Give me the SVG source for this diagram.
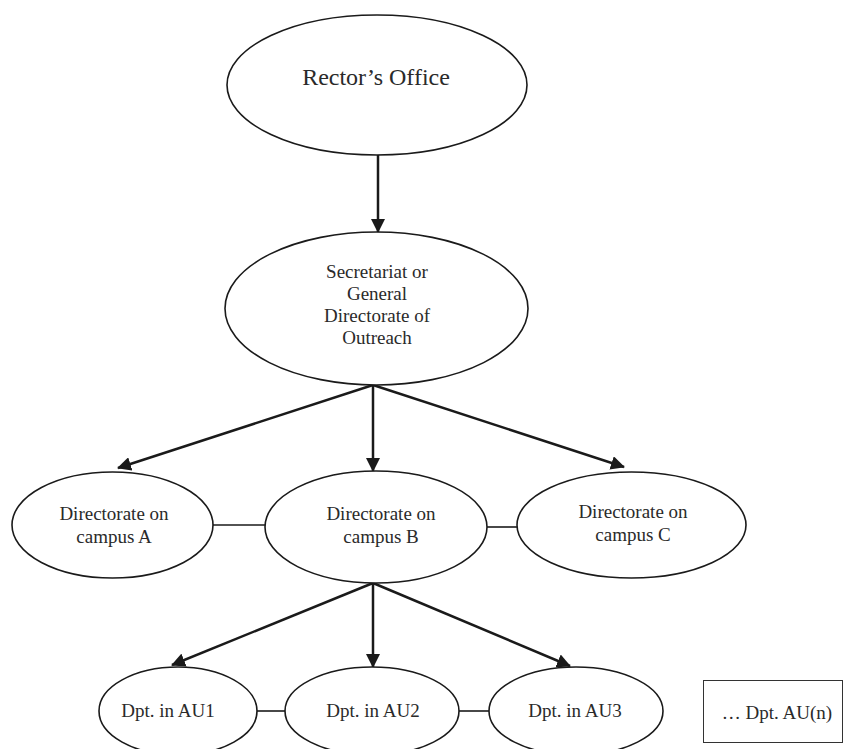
<svg xmlns="http://www.w3.org/2000/svg" width="843" height="749" viewBox="0 0 843 749">
<style>
.n{fill:#fff;stroke:#1a1a1a;stroke-width:1.6}
.t{font-family:"Liberation Serif","Times New Roman",serif;font-size:19px;fill:#2a2a2a;text-anchor:middle}
.a{stroke:#1a1a1a;stroke-width:2.5;fill:none;marker-end:url(#ah)}
.l{stroke:#1a1a1a;stroke-width:1.6;fill:none}
</style>
<defs>
<marker id="ah" markerUnits="userSpaceOnUse" viewBox="0 0 14 14" markerWidth="14" markerHeight="14" refX="13" refY="7" orient="auto">
<path d="M0,0 L14,7 L0,14 z" fill="#1a1a1a"/>
</marker>
</defs>
<rect width="843" height="749" fill="#fff"/>
<g id="connectors">
<line class="a" x1="378" y1="155" x2="378" y2="232"/>
<line class="a" x1="373" y1="385" x2="118" y2="468"/>
<line class="a" x1="373" y1="385" x2="373" y2="471"/>
<line class="a" x1="373" y1="385" x2="624" y2="467"/>
<line class="a" x1="373" y1="583" x2="172" y2="665"/>
<line class="a" x1="373" y1="583" x2="373" y2="667"/>
<line class="a" x1="373" y1="583" x2="570" y2="666"/>
<line class="l" x1="213" y1="525" x2="265" y2="525"/>
<line class="l" x1="487" y1="527" x2="517" y2="527"/>
<line class="l" x1="257" y1="711" x2="285" y2="711"/>
<line class="l" x1="459" y1="711" x2="489" y2="711"/>
</g>
<g id="rector">
<ellipse class="n" cx="377" cy="85" rx="150" ry="70"/>
<text class="t" x="376" y="85" style="font-size:24px">Rector’s Office</text>
</g>
<g id="secretariat">
<ellipse class="n" cx="376.5" cy="308.5" rx="151.5" ry="76.5"/>
<text class="t" x="377" y="278">Secretariat or</text>
<text class="t" x="377" y="300">General</text>
<text class="t" x="377" y="322">Directorate of</text>
<text class="t" x="377" y="344">Outreach</text>
</g>
<g id="campusA">
<ellipse class="n" cx="112.5" cy="525" rx="100.5" ry="53"/>
<text class="t" x="114" y="520">Directorate on</text>
<text class="t" x="114" y="543">campus A</text>
</g>
<g id="campusB">
<ellipse class="n" cx="376" cy="527" rx="111" ry="56"/>
<text class="t" x="381" y="520">Directorate on</text>
<text class="t" x="381" y="543">campus B</text>
</g>
<g id="campusC">
<ellipse class="n" cx="631.5" cy="525" rx="114.5" ry="53"/>
<text class="t" x="633" y="518">Directorate on</text>
<text class="t" x="633" y="541">campus C</text>
</g>
<g id="au1">
<ellipse class="n" cx="178" cy="711" rx="79" ry="44"/>
<text class="t" x="168" y="717">Dpt. in AU1</text>
</g>
<g id="au2">
<ellipse class="n" cx="372" cy="711" rx="87" ry="44"/>
<text class="t" x="373" y="717">Dpt. in AU2</text>
</g>
<g id="au3">
<ellipse class="n" cx="576" cy="711" rx="87" ry="44"/>
<text class="t" x="575" y="717">Dpt. in AU3</text>
</g>
<g id="aun">
<rect x="703.5" y="680.5" width="139" height="62" fill="#fff" stroke="#333" stroke-width="1"/>
<text class="t" x="777" y="719">… Dpt. AU(n)</text>
</g>
</svg>
